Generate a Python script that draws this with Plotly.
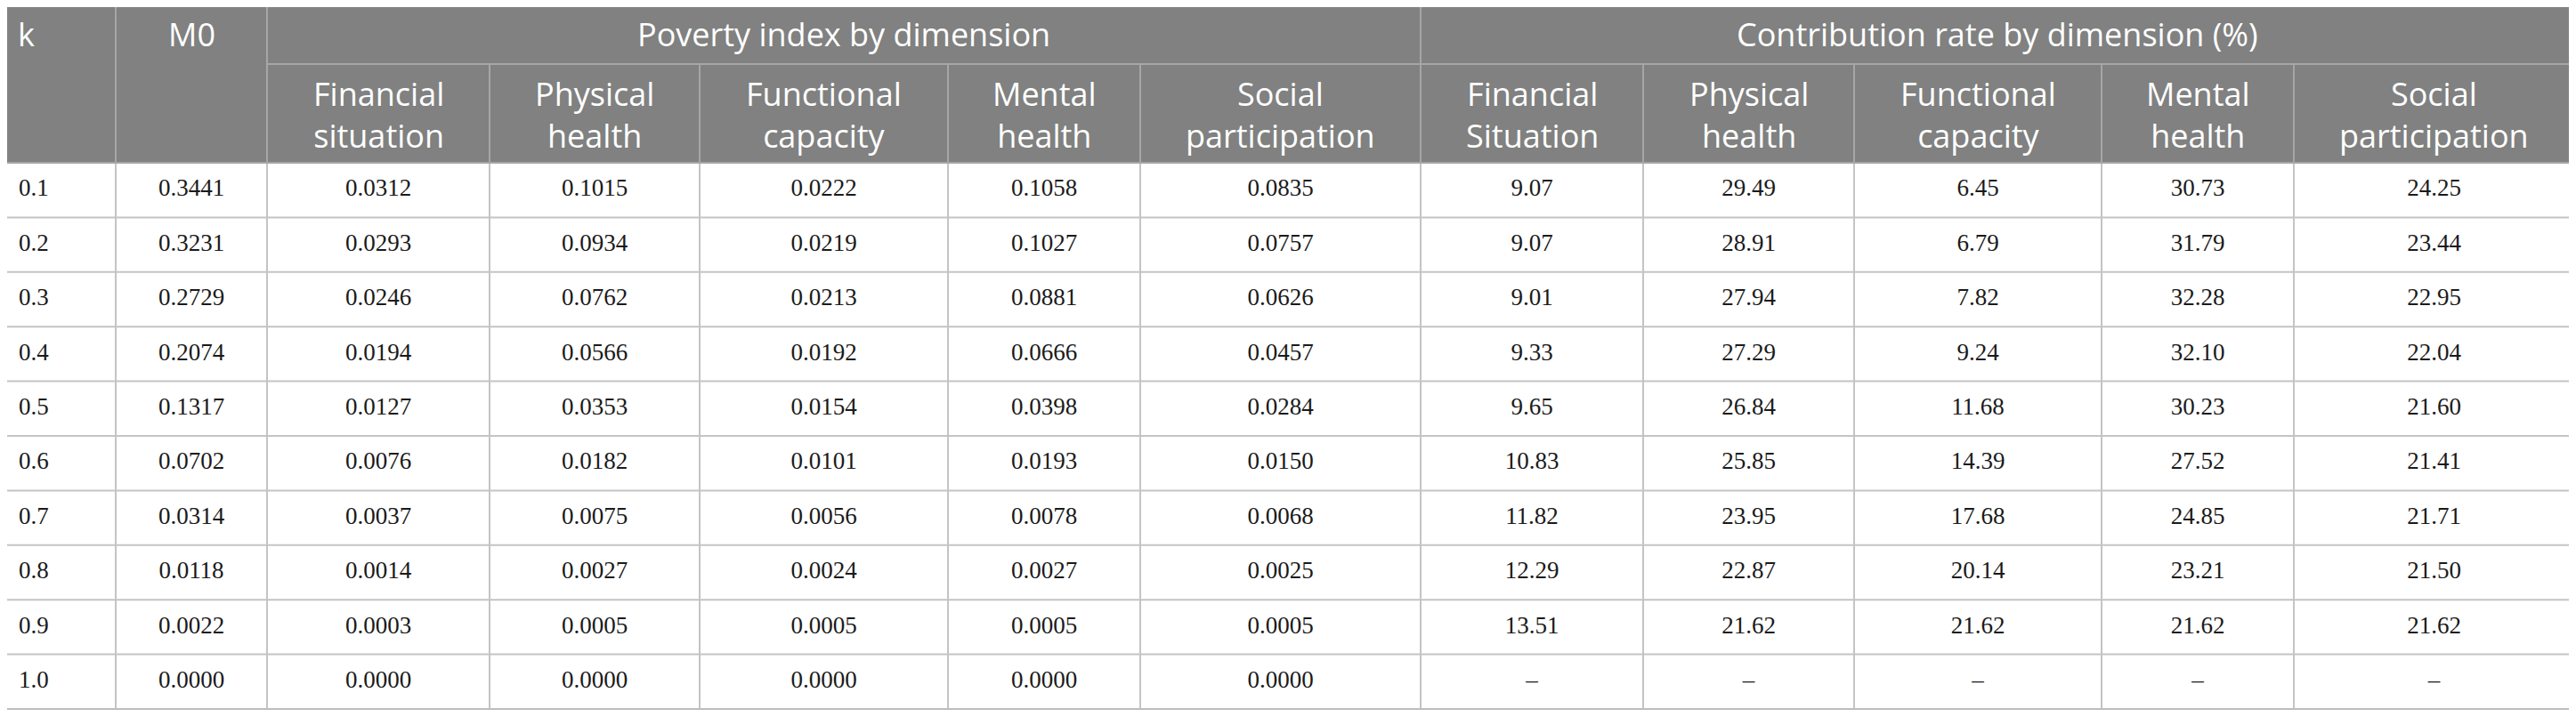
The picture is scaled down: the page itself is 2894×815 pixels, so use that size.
import plotly.graph_objects as go

# table data
k_values = ["0.1", "0.2", "0.3", "0.4", "0.5", "0.6", "0.7", "0.8", "0.9", "1.0"]
m0 = [0.3441, 0.3231, 0.2729, 0.2074, 0.1317, 0.0702, 0.0314, 0.0118, 0.0022, 0.0000]

idx_financial = [0.0312, 0.0293, 0.0246, 0.0194, 0.0127, 0.0076, 0.0037, 0.0014, 0.0003, 0.0000]
idx_physical = [0.1015, 0.0934, 0.0762, 0.0566, 0.0353, 0.0182, 0.0075, 0.0027, 0.0005, 0.0000]
idx_functional = [0.0222, 0.0219, 0.0213, 0.0192, 0.0154, 0.0101, 0.0056, 0.0024, 0.0005, 0.0000]
idx_mental = [0.1058, 0.1027, 0.0881, 0.0666, 0.0398, 0.0193, 0.0078, 0.0027, 0.0005, 0.0000]
idx_social = [0.0835, 0.0757, 0.0626, 0.0457, 0.0284, 0.0150, 0.0068, 0.0025, 0.0005, 0.0000]

rate_financial = [9.07, 9.07, 9.01, 9.33, 9.65, 10.83, 11.82, 12.29, 13.51, None]
rate_physical = [29.49, 28.91, 27.94, 27.29, 26.84, 25.85, 23.95, 22.87, 21.62, None]
rate_functional = [6.45, 6.79, 7.82, 9.24, 11.68, 14.39, 17.68, 20.14, 21.62, None]
rate_mental = [30.73, 31.79, 32.28, 32.10, 30.23, 27.52, 24.85, 23.21, 21.62, None]
rate_social = [24.25, 23.44, 22.95, 22.04, 21.60, 21.41, 21.71, 21.50, 21.62, None]

group_titles = ["Poverty index by dimension", "Contribution rate by dimension (%)"]
sub_titles = [
    "Financial<br>situation", "Physical<br>health", "Functional<br>capacity",
    "Mental<br>health", "Social<br>participation",
    "Financial<br>Situation", "Physical<br>health", "Functional<br>capacity",
    "Mental<br>health", "Social<br>participation",
]

# layout geometry (pixels on the page)
W, H = 2894, 815
PAGE_OFF = 8  # default body margin of the html page
edges = [0, 130, 300, 550, 786, 1065, 1281, 1596, 1846, 2083, 2361, 2577, 2892]
top, mid, head_bot = 4, 72, 183
row_h = 61.4
n_rows = len(k_values)
bottom = head_bot + row_h * n_rows

HEAD_BG = "#808180"
LINE = "#c4c4c4"
HEAD_LINE = "#a6a6a6"
SANS = "Open Sans, sans-serif"
SERIF = "Liberation Serif, Times New Roman, serif"


def fmt(v, nd):
    return "–" if v is None else f"{v:.{nd}f}"


columns = [
    [fmt(v, 4) for v in m0],
    *[[fmt(v, 4) for v in c] for c in (idx_financial, idx_physical, idx_functional, idx_mental, idx_social)],
    *[[fmt(v, 2) for v in c] for c in (rate_financial, rate_physical, rate_functional, rate_mental, rate_social)],
]

row_y = [head_bot + row_h * (i + 0.5) for i in range(n_rows)]
centers = [(edges[i] + edges[i + 1]) / 2 for i in range(len(edges) - 1)]

fig = go.Figure()

# first column (left aligned)
fig.add_trace(go.Scatter(
    x=[21] * n_rows, y=row_y, text=k_values, mode="text",
    textposition="middle right",
    textfont=dict(family=SERIF, size=27, color="#1a1a1a"),
    hoverinfo="skip", showlegend=False,
))

# remaining body columns
for ci, col in enumerate(columns):
    fig.add_trace(go.Scatter(
        x=[centers[ci + 1]] * n_rows, y=row_y, text=col, mode="text",
        textposition="middle center",
        textfont=dict(family=SERIF, size=27, color="#1a1a1a"),
        hoverinfo="skip", showlegend=False,
    ))

shapes = []
# header background
shapes.append(dict(type="rect", x0=edges[0], x1=edges[-1], y0=top, y1=head_bot,
                   fillcolor=HEAD_BG, line=dict(width=0), layer="below"))

# body horizontal lines
for i in range(1, n_rows):
    y = head_bot + row_h * i
    shapes.append(dict(type="line", x0=edges[0], x1=edges[-1], y0=y, y1=y,
                       line=dict(color=LINE, width=2)))
# body vertical lines
for x in edges[1:-1]:
    shapes.append(dict(type="line", x0=x, x1=x, y0=head_bot, y1=bottom,
                       line=dict(color=LINE, width=2)))

# header lines
shapes.append(dict(type="line", x0=edges[2], x1=edges[-1], y0=mid, y1=mid,
                   line=dict(color=HEAD_LINE, width=2)))
shapes.append(dict(type="line", x0=edges[0], x1=edges[-1], y0=head_bot, y1=head_bot,
                   line=dict(color=HEAD_LINE, width=2)))
for j, x in enumerate(edges[1:-1], start=1):
    full = j in (1, 2, 7)
    shapes.append(dict(type="line", x0=x, x1=x, y0=top if full else mid, y1=head_bot,
                       line=dict(color=HEAD_LINE, width=2)))

# outer border
shapes.append(dict(type="rect", x0=edges[0] + 1, x1=edges[-1], y0=top, y1=bottom,
                   line=dict(color="#bdbdbd", width=2), fillcolor="rgba(0,0,0,0)"))

annotations = []
head_font = dict(family=SANS, size=36, color="white")
annotations.append(dict(x=18, y=(top + mid) / 2, text="k", showarrow=False,
                        xanchor="left", yanchor="middle", font=head_font))
annotations.append(dict(x=centers[1], y=(top + mid) / 2, text="M0", showarrow=False,
                        xanchor="center", yanchor="middle", font=head_font))
annotations.append(dict(x=(edges[2] + edges[7]) / 2, y=(top + mid) / 2, text=group_titles[0],
                        showarrow=False, xanchor="center", yanchor="middle", font=head_font))
annotations.append(dict(x=(edges[7] + edges[12]) / 2, y=(top + mid) / 2, text=group_titles[1],
                        showarrow=False, xanchor="center", yanchor="middle", font=head_font))
for si, label in enumerate(sub_titles):
    annotations.append(dict(x=centers[si + 2], y=(mid + head_bot) / 2 + 1, text=label,
                            showarrow=False, xanchor="center", yanchor="middle", font=head_font))

fig.update_layout(
    width=W - PAGE_OFF, height=H - 2 * PAGE_OFF,
    margin=dict(l=0, r=0, t=0, b=0),
    paper_bgcolor="white", plot_bgcolor="white",
    xaxis=dict(range=[PAGE_OFF, W], visible=False, fixedrange=True),
    yaxis=dict(range=[H - PAGE_OFF, PAGE_OFF], visible=False, fixedrange=True),
    shapes=shapes, annotations=annotations,
)

fig.write_html("out.html")
